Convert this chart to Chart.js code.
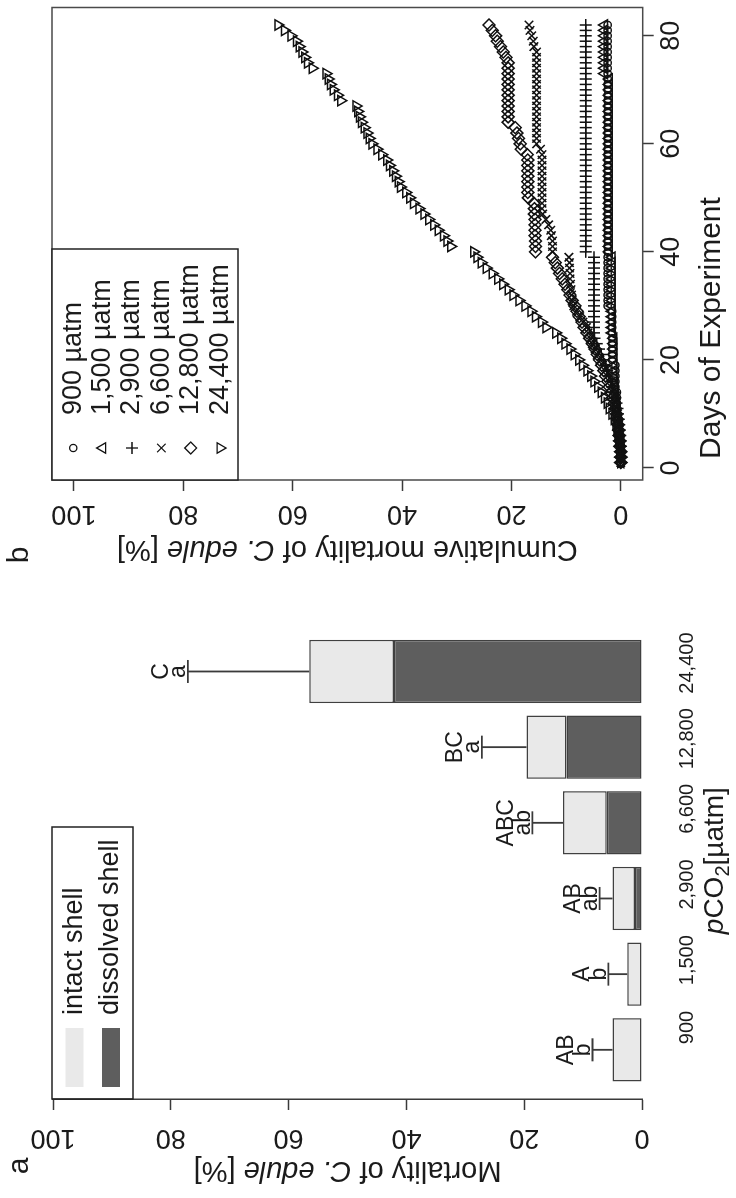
<!DOCTYPE html>
<html>
<head>
<meta charset="utf-8">
<title>Mortality of C. edule</title>
<script src="https://cdn.jsdelivr.net/npm/chart.js@4.4.1/dist/chart.umd.min.js"></script>
<style>
  html, body { margin: 0; padding: 0; background: #fff; overflow: hidden; }
  #page { position: relative; width: 736px; height: 1198px; overflow: hidden; background: #fff; }
  /* the figure is drawn upright (1198 x 736) and turned a quarter turn to the left */
  #fig { position: absolute; left: 0; top: 0; width: 1198px; height: 736px;
         transform-origin: 0 0; transform: translate(0, 1198px) rotate(-90deg); }
  #fig canvas { position: absolute; top: 0; }
  #chart-a { left: 0; }
  #chart-b { left: 600px; }
</style>
</head>
<body>
<div id="page"><div id="fig">
  <canvas id="chart-a" width="600" height="736"></canvas>
  <canvas id="chart-b" width="598" height="736"></canvas>
</div></div>
<script>
const FONT = "'Liberation Sans', Arial, Helvetica, sans-serif"
const INK = '#1b1b1b'
const LINE = '#3a3a3a'
Chart.defaults.font.family = FONT
Chart.defaults.color = INK

// ---- panel a: final mortality per treatment ----
const PCO2_LABELS = ['900', '1,500', '2,900', '6,600', '12,800', '24,400']
const DISSOLVED = [0, 0, 1.2, 6.0, 12.8, 42.1]
const INTACT = [5.0, 2.5, 3.8, 7.4, 6.8, 14.4]
const SE = [3.4, 3.2, 2.2, 5.2, 7.6, 20.6]
const GROUP_UPPER = ['AB', 'A', 'AB', 'ABC', 'BC', 'C']
const GROUP_LOWER = ['b', 'b', 'ab', 'ab', 'a', 'a']
const MORT_TICKS = [0, 20, 40, 60, 80, 100]
const SHELL_LABELS = ['intact shell', 'dissolved shell']

// ---- panel b: cumulative mortality over time ----
const DAYS = [1, 2, 3, 4, 5, 6, 7, 8, 9, 10, 11, 12, 13, 14, 15, 16, 17, 18, 19, 20,
  21, 22, 23, 24, 25, 26, 27, 28, 29, 30, 31, 32, 33, 34, 35, 36, 37, 38, 39, 40,
  41, 42, 43, 44, 45, 46, 47, 48, 49, 50, 51, 52, 53, 54, 55, 56, 57, 58, 59, 60,
  61, 62, 63, 64, 65, 66, 67, 68, 69, 70, 71, 72, 73, 74, 75, 76, 77, 78, 79, 80, 81, 82]
const DAY_TICKS = [0, 20, 40, 60, 80]
const TREATMENTS = ['900 µatm', '1,500 µatm', '2,900 µatm', '6,600 µatm', '12,800 µatm', '24,400 µatm']

const CUM_900 = [0, 0, 0, 0, 0, 0.4, 0.4, 0.4, 0.4, 0.7, 0.7, 0.7, 0.7, 0.7, 1.0, 1.0, 1.0, 1.0, 1.0,
  1.6, 1.6, 1.6, 1.6, 1.6, 1.6, 1.6, 1.6, 1.6, 1.6,
  2.4, 2.4, 2.4, 2.4, 2.4, 2.4, 2.4, 2.4, 2.4, 2.4, 2.4, 2.4, 2.4, 2.4, 2.4, 2.4, 2.4, 2.4,
  2.4, 2.4, 2.4, 2.4, 2.4, 2.4, 2.4, 2.4, 2.4, 2.4, 2.4, 2.4, 2.4, 2.4, 2.4, 2.4, 2.4, 2.4,
  2.4, 2.4, 2.4, 2.4, 2.4, 2.4, 2.4, 2.4, 2.4, 2.4, 2.4, 2.4, 2.4, 2.4, 2.4, 2.4, 2.4, 2.4]
const CUM_1500 = [0, 0, 0, 0, 0.2, 0.2, 0.3, 0.4, 0.5, 0.6, 0.7, 0.8, 0.9, 1.0, 1.1, 1.2,
  1.3, 1.3, 1.3, 1.3, 1.3, 1.3, 1.3, 1.3,
  1.6, 1.6, 1.6, 1.6, 1.6, 1.6, 1.6, 1.6, 1.6, 1.6, 1.6, 1.6, 1.6, 1.6, 1.6,
  2.1, 2.1, 2.1, 2.1, 2.1, 2.1, 2.1, 2.1, 2.1, 2.1, 2.1, 2.1, 2.1, 2.1, 2.1, 2.1, 2.1,
  2.1, 2.1, 2.1, 2.1, 2.1, 2.1, 2.1, 2.1, 2.1, 2.1, 2.1, 2.1, 2.1, 2.1, 2.1, 2.1,
  3.0, 3.0, 3.0, 3.0, 3.0, 3.0, 3.0, 3.0, 3.0, 3.0]
const CUM_2900 = [0, 0, 0, 0, 0, 0.1, 0.2, 0.3, 0.4, 0.5, 0.6, 0.8, 1.0, 1.3, 1.6, 1.9, 2.2, 2.5,
  2.8, 3.2, 3.6, 4.0, 4.4, 4.8,
  4.9, 4.9, 4.9, 4.9, 4.9, 4.9, 4.9, 4.9, 4.9, 4.9, 4.9, 4.9, 4.9, 4.9, 4.9,
  6.4, 6.4, 6.4, 6.4, 6.4, 6.4, 6.4, 6.4, 6.4, 6.4, 6.4, 6.4, 6.4, 6.4, 6.4, 6.4, 6.4, 6.4,
  6.4, 6.4, 6.4, 6.4, 6.4, 6.4, 6.4, 6.4, 6.4, 6.4, 6.4, 6.4, 6.4, 6.4, 6.4, 6.4, 6.4, 6.4,
  6.4, 6.4, 6.4, 6.4, 6.4, 6.4, 6.4]
const CUM_6600 = [0, 0, 0, 0, 0.1, 0.2, 0.3, 0.4, 0.5, 0.6, 0.8, 1.0, 1.2, 1.5,
  1.8, 2.1, 2.5, 2.9, 3.3, 3.8, 4.3, 4.7, 5.2, 5.6,
  6.0, 6.3, 6.9, 7.5, 8.1, 8.6, 8.9, 9.0, 9.1, 9.2, 9.3, 9.3, 9.4, 9.4, 9.5,
  12.5, 12.5, 12.5, 12.7, 12.8, 13.2, 13.7, 14.3,
  14.4, 14.4, 14.4, 14.4, 14.4, 14.4, 14.4, 14.4, 14.4, 14.4, 14.4, 14.7,
  15.4, 15.4, 15.4, 15.4, 15.4, 15.4, 15.4, 15.4, 15.4, 15.4, 15.4, 15.4, 15.4, 15.4, 15.4,
  15.4, 15.4, 15.4, 15.9, 16.0, 16.3, 16.6, 16.8]
const CUM_12800 = [0, 0, 0, 0.2, 0.2, 0.3, 0.4, 0.5, 0.6, 0.8, 1.0, 1.2, 1.5,
  1.8, 2.1, 2.4, 2.8, 3.1, 3.5, 3.9, 4.3, 4.7, 5.2,
  5.7, 6.2, 6.7, 7.1, 7.6, 8.0, 8.4, 8.9, 9.3, 9.7,
  10.2, 10.7, 11.2, 11.6, 12.0, 12.5,
  15.6, 15.6, 15.6, 15.7, 15.7, 15.7, 15.7, 15.8, 15.8, 15.9,
  16.9, 17.0, 17.0, 17.0, 17.0, 17.0, 17.0, 17.0, 17.1,
  18.2, 18.4, 18.7, 19.0, 19.3,
  20.6, 20.6, 20.6, 20.6, 20.6, 20.6, 20.6, 20.6, 20.6, 20.6, 20.6, 20.6,
  21.0, 21.5, 22.0, 22.6, 22.9, 23.5, 24.1]
const CUM_24400 = [0.0, 0.0, 0.2, 0.2, 0.4, 0.5, 0.7, 0.9, 1.2, 1.6,
  2.1, 2.5, 3.0, 3.6, 4.2, 4.9, 5.5, 6.2, 7.0, 7.7,
  8.5, 9.3, 10.2, 11.0, 11.9, 13.7, 14.5, 15.6, 16.4, 17.5,
  18.6, 19.7, 20.6, 21.6, 22.5, 23.5, 24.6, 25.5, 26.3, 26.9,
  31.1, 31.8, 32.4, 33.4, 34.2, 35.1, 36.0, 36.9, 37.9, 38.6,
  39.3, 40.3, 40.7, 41.2, 41.7, 42.3, 42.8, 43.7, 44.6, 45.5,
  46.0, 46.4, 46.9, 47.4, 47.8, 48.1, 48.4, 51.2, 51.8, 52.6,
  53.1, 53.5, 53.9, 56.4, 57.3, 57.8, 58.3, 58.8, 59.3, 60.3,
  61.5, 62.7]

const SERIES = [
  { values: CUM_900, style: 'circle', rot: 0, r: 3.6 },
  { values: CUM_1500, style: 'triangle', rot: 0, r: 6 },
  { values: CUM_2900, style: 'cross', rot: 0, r: 6 },
  { values: CUM_6600, style: 'crossRot', rot: 0, r: 6 },
  { values: CUM_12800, style: 'rectRot', rot: 0, r: 6 },
  { values: CUM_24400, style: 'triangle', rot: 180, r: 6 },
]

// text with italic / subscript pieces, centred on (x, y)
function drawRich(ctx, parts, x, y, rot, size) {
  const fontOf = p => `${p.italic ? 'italic ' : ''}${p.sub ? Math.round(size * 0.72) : size}px ${FONT}`
  ctx.save()
  ctx.translate(x, y)
  ctx.rotate(rot)
  let total = 0
  parts.forEach(p => { ctx.font = fontOf(p); total += ctx.measureText(p.t).width })
  let cx = -total / 2
  ctx.fillStyle = INK
  ctx.textAlign = 'left'
  ctx.textBaseline = 'middle'
  parts.forEach(p => {
    ctx.font = fontOf(p)
    ctx.fillText(p.t, cx, p.sub ? size * 0.3 : 0)
    cx += ctx.measureText(p.t).width
  })
  ctx.restore()
}

const tickList = arr => s => { s.ticks = arr.map(v => ({ value: v })) }

// error bars, significance letters, legend and titles of panel a
const panelA = {
  id: 'panelA',
  afterDatasetsDraw(chart) {
    const { ctx, chartArea: ca, scales: { x, y } } = chart
    ctx.save()
    PCO2_LABELS.forEach((_, i) => {
      const cx = x.getPixelForValue(i)
      const total = INTACT[i] + DISSOLVED[i]
      const y0 = y.getPixelForValue(total)
      const y1 = y.getPixelForValue(total + SE[i])
      ctx.strokeStyle = LINE
      ctx.lineWidth = 1.8
      ctx.beginPath()
      ctx.moveTo(cx, y0); ctx.lineTo(cx, y1)
      ctx.moveTo(cx - 11.5, y1); ctx.lineTo(cx + 11.5, y1)
      ctx.stroke()
      ctx.fillStyle = INK
      ctx.font = `23px ${FONT}`
      ctx.textAlign = 'center'
      ctx.textBaseline = 'alphabetic'
      ctx.fillText(GROUP_LOWER[i], cx, y1 - 2.5)
      ctx.fillText(GROUP_UPPER[i], cx, y1 - 19.5)
    })

    // legend box
    const lx = ca.left, ly = ca.top - 1
    ctx.strokeStyle = '#222'
    ctx.lineWidth = 1.5
    ctx.strokeRect(lx, ly, 272, 81)
    const fills = ['#e9e9e9', '#5e5e5e']
    SHELL_LABELS.forEach((lab, i) => {
      const yy = ly + 22.5 + i * 36.5
      ctx.fillStyle = fills[i]
      ctx.fillRect(lx + 12, yy - 9, 59, 18)
      ctx.fillStyle = INK
      ctx.font = `27px ${FONT}`
      ctx.textAlign = 'left'
      ctx.textBaseline = 'middle'
      ctx.fillText(lab, lx + 84, yy)
    })

    drawRich(ctx, [{ t: 'Mortality of ' }, { t: 'C. edule', italic: true }, { t: ' [%]' }],
      28, (ca.top + ca.bottom) / 2, -Math.PI / 2, 29)
    drawRich(ctx, [{ t: 'p', italic: true }, { t: 'CO' }, { t: '2', sub: true }, { t: '[µatm]' }],
      (x.getPixelForValue(0) + x.getPixelForValue(5)) / 2, ca.bottom + 73, 0, 28)

    ctx.fillStyle = INK
    ctx.font = `30px ${FONT}`
    ctx.textAlign = 'center'
    ctx.textBaseline = 'alphabetic'
    ctx.fillText('a', 32, 28)
    ctx.restore()
  }
}

new Chart(document.getElementById('chart-a'), {
  type: 'bar',
  data: {
    datasets: [
      {
        label: SHELL_LABELS[1],
        data: DISSOLVED.map((v, i) => ({ x: i, y: v })),
        backgroundColor: '#5e5e5e', borderColor: '#404040', borderWidth: 1.5, borderSkipped: false,
        barPercentage: 0.8366, categoryPercentage: 1,
      },
      {
        label: SHELL_LABELS[0],
        data: INTACT.map((v, i) => ({ x: i, y: v })),
        backgroundColor: '#e9e9e9', borderColor: '#404040', borderWidth: 1.5, borderSkipped: false,
        barPercentage: 0.8366, categoryPercentage: 1,
      },
    ],
  },
  options: {
    responsive: false,
    animation: false,
    devicePixelRatio: 1,
    layout: { padding: { left: 0, top: 53, right: 24.3, bottom: 0 } },
    plugins: { legend: { display: false }, tooltip: { enabled: false } },
    scales: {
      x: {
        type: 'linear', stacked: true, offset: false, min: -0.65, max: 5.65,
        afterBuildTicks: tickList(PCO2_LABELS.map((_, i) => i)),
        afterFit: s => { s.height = 94 },
        ticks: { callback: v => PCO2_LABELS[v], font: { size: 20 }, color: INK, padding: 25,
                 align: 'end', labelOffset: 39, maxRotation: 0, minRotation: 0, autoSkip: false },
        grid: { display: false, offset: false },
        border: { display: false },
      },
      y: {
        stacked: true, min: 0, max: 100,
        afterBuildTicks: tickList(MORT_TICKS),
        afterFit: s => { s.width = 99 },
        ticks: { font: { size: 27 }, color: INK, minRotation: 90, maxRotation: 90, crossAlign: 'center', padding: 4.5 },
        grid: { drawOnChartArea: false, tickLength: 11, tickColor: LINE, tickWidth: 1.5 },
        border: { display: true, color: LINE, width: 1.5 },
      },
    },
  },
  plugins: [panelA],
})

// frame, legend and titles of panel b
const panelB = {
  id: 'panelB',
  beforeDatasetsDraw(chart) {
    const { ctx, chartArea: ca } = chart
    ctx.save()
    ctx.strokeStyle = '#4a4a4a'
    ctx.lineWidth = 1.5
    ctx.strokeRect(ca.left, ca.top, ca.width, ca.height)
    ctx.restore()
  },
  afterDatasetsDraw(chart) {
    const { ctx, chartArea: ca } = chart
    ctx.save()
    const lx = ca.left, ly = ca.top
    ctx.fillStyle = '#fff'
    ctx.fillRect(lx, ly, 231, 186)
    ctx.strokeStyle = '#222'
    ctx.lineWidth = 1.5
    ctx.strokeRect(lx, ly, 231, 186)
    SERIES.forEach((s, i) => {
      const yy = ly + 21.3 + i * 29.35
      ctx.strokeStyle = '#111'
      ctx.fillStyle = 'rgba(0,0,0,0)'
      ctx.lineWidth = 1.3
      Chart.helpers.drawPoint(ctx, { pointStyle: s.style, rotation: s.rot, radius: s.r, borderWidth: 1.3 }, lx + 32, yy)
      ctx.fillStyle = INK
      ctx.font = `27px ${FONT}`
      ctx.textAlign = 'left'
      ctx.textBaseline = 'middle'
      ctx.fillText(TREATMENTS[i], lx + 65, yy)
    })

    drawRich(ctx, [{ t: 'Cumulative mortality of ' }, { t: 'C. edule', italic: true }, { t: ' [%]' }],
      ca.left - 69, (ca.top + ca.bottom) / 2, -Math.PI / 2, 29)
    drawRich(ctx, [{ t: 'Days of Experiment' }], ca.left + 152, ca.bottom + 69.3, 0, 30)

    ctx.fillStyle = INK
    ctx.font = `30px ${FONT}`
    ctx.textAlign = 'center'
    ctx.textBaseline = 'alphabetic'
    ctx.fillText('b', 43, 28)
    ctx.restore()
  }
}

new Chart(document.getElementById('chart-b'), {
  type: 'scatter',
  data: {
    datasets: SERIES.map((s, i) => ({
      label: TREATMENTS[i],
      data: DAYS.map((d, j) => ({ x: d, y: s.values[j] })),
      pointStyle: s.style,
      pointRotation: s.rot,
      pointRadius: s.r,
      pointBorderWidth: 1.5,
      borderColor: '#111',
      backgroundColor: 'rgba(0,0,0,0)',
      showLine: false,
    })),
  },
  options: {
    responsive: false,
    animation: false,
    devicePixelRatio: 1,
    layout: { padding: { left: 0, top: 52, right: 3.3, bottom: 0 } },
    plugins: { legend: { display: false }, tooltip: { enabled: false } },
    scales: {
      x: {
        type: 'linear', min: -2.24, max: 85.24,
        afterBuildTicks: tickList(DAY_TICKS),
        afterFit: s => { s.height = 93.3 },
        ticks: { font: { size: 27 }, color: INK, padding: 2, maxRotation: 0, minRotation: 0 },
        grid: { drawOnChartArea: false, tickLength: 11, tickColor: LINE, tickWidth: 1.5 },
        border: { display: false },
      },
      y: {
        type: 'linear', min: -4, max: 104,
        afterBuildTicks: tickList(MORT_TICKS),
        afterFit: s => { s.width = 118 },
        ticks: { font: { size: 27 }, color: INK, minRotation: 90, maxRotation: 90, crossAlign: 'center', padding: 0 },
        grid: { drawOnChartArea: false, tickLength: 11, tickColor: LINE, tickWidth: 1.5 },
        border: { display: false },
      },
    },
  },
  plugins: [panelB],
})
</script>
</body>
</html>
